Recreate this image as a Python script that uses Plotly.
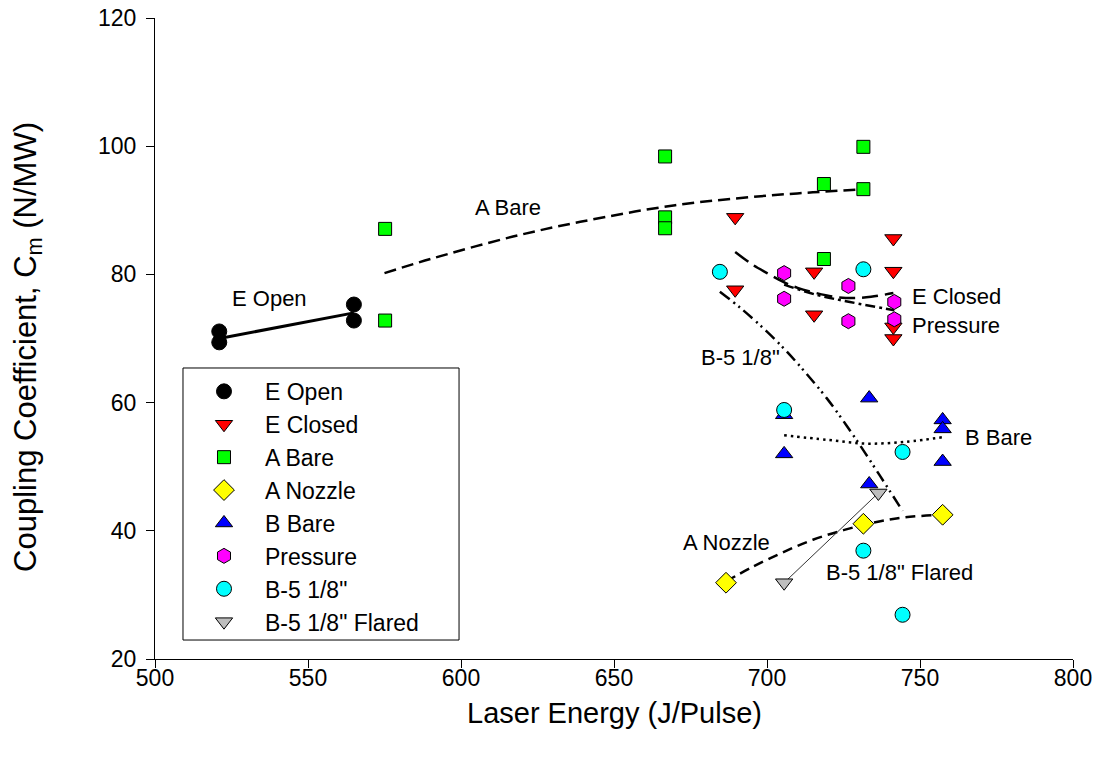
import plotly.graph_objects as go

# ---- scatter data (Laser Energy J/Pulse, Coupling Coefficient N/MW) ----
e_open_x = [521, 521, 565, 565]
e_open_y = [71.1, 69.4, 75.3, 72.8]

e_closed_x = [689.6, 689.6, 715.4, 715.4, 741.3, 741.3, 741.3, 741.3]
e_closed_y = [88.9, 77.6, 80.4, 73.7, 85.6, 80.5, 71.8, 70.0]

a_bare_x = [575.2, 575.2, 666.7, 666.7, 666.7, 718.6, 718.6, 731.5, 731.5]
a_bare_y = [87.1, 72.8, 98.4, 88.9, 87.2, 94.1, 82.4, 99.9, 93.3]

a_nozzle_x = [686.6, 731.5, 757.4]
a_nozzle_y = [31.9, 41.1, 42.5]

b_bare_x = [705.6, 705.6, 733.4, 733.4, 757.4, 757.4, 757.4]
b_bare_y = [58.1, 52.0, 60.7, 47.3, 57.3, 55.9, 50.8]

pressure_x = [705.6, 705.6, 726.6, 726.6, 741.6, 741.6]
pressure_y = [80.2, 76.2, 78.2, 72.7, 75.7, 73.0]

b5_x = [684.6, 705.6, 731.5, 731.5, 744.3, 744.3]
b5_y = [80.4, 58.85, 80.8, 36.9, 52.3, 26.9]

b5f_x = [705.6, 736.4]
b5f_y = [31.9, 45.9]

# ---- fit curves ----
fit_e_open_x = [521, 565]
fit_e_open_y = [70.0, 74.0]

fit_a_bare_x = [575, 590, 617, 639, 670, 698, 715, 731.5]
fit_a_bare_y = [80.2, 82.4, 85.9, 88.2, 90.8, 92.2, 92.8, 93.3]

fit_e_closed_x = [689.6, 695, 700, 705, 710, 716, 722, 728, 734, 741.3]
fit_e_closed_y = [83.5, 81.6, 80.2, 78.9, 77.9, 77.1, 76.5, 76.3, 76.5, 77.1]

fit_pressure_x = [705.6, 716.2, 727.1, 741.6]
fit_pressure_y = [78.4, 76.8, 75.7, 74.4]

fit_b5_x = [684.6, 692, 699.9, 706, 712, 719.5, 728.2, 736.9, 744.3]
fit_b5_y = [77.3, 74.5, 71.1, 68.2, 65.0, 60.7, 54.9, 48.6, 43.1]

fit_b_bare_x = [705.6, 719.5, 732.6, 745.6, 757.4]
fit_b_bare_y = [54.9, 54.2, 53.6, 53.9, 54.6]

fit_a_nozzle_x = [686.6, 695, 705, 715, 725, 735, 745, 757.4]
fit_a_nozzle_y = [32.1, 34.3, 36.6, 38.6, 40.1, 41.3, 42.1, 42.5]

# ---- labels ----
label_text = ["E Open", "A Bare", "E Closed", "Pressure", 'B-5 1/8"', "B Bare",
              "A Nozzle", 'B-5 1/8" Flared']
label_x = [537.3, 615.2, 746.7, 746.7, 691.2, 764.1, 686.8, 743.2]
label_y = [76.3, 90.5, 76.6, 72.1, 67.0, 54.5, 38.2, 33.5]
label_anchor = ["center", "center", "left", "left", "center", "left", "center", "center"]

FONT = "Liberation Sans, Arial, sans-serif"

fig = go.Figure()

def fit(x, y, dash, width=2.5, color="black"):
    fig.add_trace(go.Scatter(x=x, y=y, mode="lines", showlegend=False, hoverinfo="skip",
                             line=dict(color=color, width=width, dash=dash, shape="spline")))

fit(fit_e_open_x, fit_e_open_y, "solid", 3)
fit(fit_a_bare_x, fit_a_bare_y, "12px,6px")
fit(fit_e_closed_x, fit_e_closed_y, "16px,7px")
fit(fit_pressure_x, fit_pressure_y, "10px,4px,3px,4px")
fit(fit_b5_x, fit_b5_y, "12px,5px,2px,4px,2px,5px")
fit(fit_b_bare_x, fit_b_bare_y, "2.5px,4px", 2.5)
fit(fit_a_nozzle_x, fit_a_nozzle_y, "10px,6px")
fit(b5f_x, b5f_y, "solid", 1, "#333333")

def pts(name, x, y, symbol, color, size):
    fig.add_trace(go.Scatter(x=x, y=y, mode="markers", name=name,
                             marker=dict(symbol=symbol, color=color, size=size,
                                         line=dict(color="black", width=1))))

pts("E Open", e_open_x, e_open_y, "circle", "black", 15)
pts("E Closed", e_closed_x, e_closed_y, "triangle-down", "#FF0000", 15)
pts("A Bare", a_bare_x, a_bare_y, "square", "#00FF00", 13)
pts("A Nozzle", a_nozzle_x, a_nozzle_y, "diamond", "#FFFF00", 16)
pts("B Bare", b_bare_x, b_bare_y, "triangle-up", "#0000FF", 15)
pts("Pressure", pressure_x, pressure_y, "hexagon", "#FF00FF", 15)
pts('B-5 1/8"', b5_x, b5_y, "circle", "#00FFFF", 15)
pts('B-5 1/8" Flared', b5f_x, b5f_y, "triangle-down", "#BEBEBE", 15)

for t, x, y, a in zip(label_text, label_x, label_y, label_anchor):
    fig.add_annotation(x=x, y=y, text=t, showarrow=False, xanchor=a, yanchor="middle",
                       font=dict(family=FONT, size=22, color="black"))

# axis titles
fig.add_annotation(xref="paper", yref="paper", x=0.5, y=-0.084, text="Laser Energy (J/Pulse)",
                   showarrow=False, xanchor="center", yanchor="middle",
                   font=dict(family=FONT, size=29, color="black"))
fig.add_annotation(xref="paper", yref="paper", x=-0.139, y=0.4875,
                   text="Coupling Coefficient, C<sub>m</sub> (N/MW)", textangle=-90,
                   showarrow=False, xanchor="center", yanchor="middle",
                   font=dict(family=FONT, size=31, color="black"))

# legend frame
fig.add_shape(type="rect", xref="paper", yref="paper", x0=0.0305, x1=0.3312, y0=0.0296, y1=0.454,
              line=dict(color="black", width=1), fillcolor="white", layer="below")

fig.update_layout(
    width=1102, height=760,
    margin=dict(l=155, r=29, t=18, b=101),
    paper_bgcolor="white", plot_bgcolor="white",
    font=dict(family=FONT, color="black"),
    legend=dict(x=0.0305, y=0.451, xanchor="left", yanchor="top",
                borderwidth=0, bgcolor="rgba(0,0,0,0)",
                font=dict(family=FONT, size=23, color="black"),
                itemwidth=72, tracegroupgap=0),
    xaxis=dict(range=[500, 800], tickvals=[500, 550, 600, 650, 700, 750, 800],
               showgrid=False, zeroline=False, showline=True, linecolor="black", linewidth=1,
               ticks="outside", ticklen=8, tickcolor="black", ticklabelstandoff=-10,
               automargin=False,
               tickfont=dict(family=FONT, size=23, color="black")),
    yaxis=dict(range=[20, 120], tickvals=[20, 40, 60, 80, 100, 120],
               showgrid=False, zeroline=False, showline=True, linecolor="black", linewidth=1,
               ticks="outside", ticklen=8, tickcolor="black", ticklabelstandoff=5,
               automargin=False,
               tickfont=dict(family=FONT, size=23, color="black")),
)

fig.write_html("out.html", config={"displayModeBar": False},
               post_script="document.body.style.margin='0px';")
